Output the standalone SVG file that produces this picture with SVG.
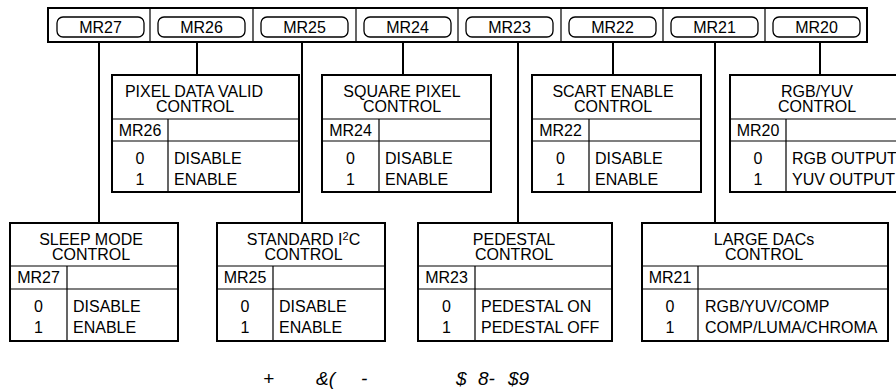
<svg xmlns="http://www.w3.org/2000/svg" width="896" height="390" viewBox="0 0 896 390">
<style>
text{font-family:"Liberation Sans",Arial,sans-serif;font-size:16px;fill:#000}
.c{text-anchor:middle}
.outer{fill:#fff;stroke:#000;stroke-width:2}
.inner{stroke:#000;stroke-width:1.2;fill:none}
.pill{fill:#fff;stroke:#000;stroke-width:1.3}
.conn{stroke:#000;stroke-width:2;fill:none}
.cap{font-style:italic;font-size:19px}
</style>
<rect width="896" height="390" fill="#fff"/>
<g id="connectors">
<line class="conn" x1="99" y1="42" x2="99" y2="223"/>
<line class="conn" x1="197" y1="42" x2="197" y2="75"/>
<line class="conn" x1="302" y1="42" x2="302" y2="223"/>
<line class="conn" x1="403" y1="42" x2="403" y2="75"/>
<line class="conn" x1="518" y1="42" x2="518" y2="223"/>
<line class="conn" x1="613" y1="42" x2="613" y2="75"/>
<line class="conn" x1="715" y1="42" x2="715" y2="223"/>
<line class="conn" x1="820" y1="42" x2="820" y2="75"/>
</g>
<g id="register">
<rect class="outer" x="48" y="8" width="819" height="34"/>
<path class="inner" d="M150 8V42M253 8V42M356 8V42M458 8V42M561 8V42M663 8V42M765 8V42"/>
<rect class="pill" x="57" y="17" width="87" height="20" rx="6"/>
<rect class="pill" x="158" y="17" width="87" height="20" rx="6"/>
<rect class="pill" x="261" y="17" width="87" height="20" rx="6"/>
<rect class="pill" x="364" y="17" width="87" height="20" rx="6"/>
<rect class="pill" x="466" y="17" width="87" height="20" rx="6"/>
<rect class="pill" x="569" y="17" width="87" height="20" rx="6"/>
<rect class="pill" x="671" y="17" width="87" height="20" rx="6"/>
<rect class="pill" x="773" y="17" width="87" height="20" rx="6"/>
<text class="c" x="100.5" y="33">MR27</text>
<text class="c" x="201.5" y="33">MR26</text>
<text class="c" x="304.5" y="33">MR25</text>
<text class="c" x="407.5" y="33">MR24</text>
<text class="c" x="509.5" y="33">MR23</text>
<text class="c" x="612.5" y="33">MR22</text>
<text class="c" x="714.5" y="33">MR21</text>
<text class="c" x="816.5" y="33">MR20</text>
</g>
<g id="pixel-data-valid">
<rect class="outer" x="112" y="75" width="187" height="117"/>
<path class="inner" d="M112 119H299M112 141H299M168 119V192"/>
<text class="c" x="194" y="96.5">PIXEL DATA VALID</text>
<text class="c" x="195" y="112">CONTROL</text>
<text class="c" x="140" y="136">MR26</text>
<text class="c" x="140" y="164">0</text>
<text class="c" x="140" y="185">1</text>
<text x="174" y="164">DISABLE</text>
<text x="174" y="185">ENABLE</text>
</g>
<g id="square-pixel">
<rect class="outer" x="322" y="75" width="169" height="117"/>
<path class="inner" d="M322 119H491M322 141H491M379 119V192"/>
<text class="c" x="402" y="96.5">SQUARE PIXEL</text>
<text class="c" x="402" y="112">CONTROL</text>
<text class="c" x="350.5" y="136">MR24</text>
<text class="c" x="350.5" y="164">0</text>
<text class="c" x="350.5" y="185">1</text>
<text x="385" y="164">DISABLE</text>
<text x="385" y="185">ENABLE</text>
</g>
<g id="scart-enable">
<rect class="outer" x="532" y="75" width="169" height="117"/>
<path class="inner" d="M532 119H701M532 141H701M589 119V192"/>
<text class="c" x="613" y="96.5">SCART ENABLE</text>
<text class="c" x="613" y="112">CONTROL</text>
<text class="c" x="560.5" y="136">MR22</text>
<text class="c" x="560.5" y="164">0</text>
<text class="c" x="560.5" y="185">1</text>
<text x="595" y="164">DISABLE</text>
<text x="595" y="185">ENABLE</text>
</g>
<g id="rgb-yuv">
<rect class="outer" x="730" y="75" width="175" height="117"/>
<path class="inner" d="M730 119H905M730 141H905M786 119V192"/>
<text class="c" x="817" y="96.5">RGB/YUV</text>
<text class="c" x="817" y="112">CONTROL</text>
<text class="c" x="758" y="136">MR20</text>
<text class="c" x="758" y="164">0</text>
<text class="c" x="758" y="185">1</text>
<text x="792" y="164">RGB OUTPUT</text>
<text x="792" y="185">YUV OUTPUT</text>
</g>
<g id="sleep-mode">
<rect class="outer" x="10" y="223" width="168" height="118"/>
<path class="inner" d="M10 266H178M10 289H178M67 266V341"/>
<text class="c" x="91" y="245">SLEEP MODE</text>
<text class="c" x="91" y="260">CONTROL</text>
<text class="c" x="38.5" y="283">MR27</text>
<text class="c" x="38.5" y="312">0</text>
<text class="c" x="38.5" y="333">1</text>
<text x="73" y="312">DISABLE</text>
<text x="73" y="333">ENABLE</text>
</g>
<g id="standard-i2c">
<rect class="outer" x="217" y="223" width="168" height="118"/>
<path class="inner" d="M217 266H385M217 289H385M273 266V341"/>
<text class="c" x="303.5" y="245">STANDARD I<tspan font-size="11" dy="-5">2</tspan><tspan dy="5">C</tspan></text>
<text class="c" x="303.5" y="260">CONTROL</text>
<text class="c" x="245" y="283">MR25</text>
<text class="c" x="245" y="312">0</text>
<text class="c" x="245" y="333">1</text>
<text x="279" y="312">DISABLE</text>
<text x="279" y="333">ENABLE</text>
</g>
<g id="pedestal">
<rect class="outer" x="418" y="223" width="194" height="118"/>
<path class="inner" d="M418 266H612M418 289H612M475 266V341"/>
<text class="c" x="514" y="245">PEDESTAL</text>
<text class="c" x="514" y="260">CONTROL</text>
<text class="c" x="446.5" y="283">MR23</text>
<text class="c" x="446.5" y="312">0</text>
<text class="c" x="446.5" y="333">1</text>
<text x="481" y="312">PEDESTAL ON</text>
<text x="481" y="333">PEDESTAL OFF</text>
</g>
<g id="large-dacs">
<rect class="outer" x="642" y="223" width="246" height="118"/>
<path class="inner" d="M642 266H888M642 289H888M698 266V341"/>
<text class="c" x="764" y="245">LARGE DACs</text>
<text class="c" x="764" y="260">CONTROL</text>
<text class="c" x="670" y="283">MR21</text>
<text class="c" x="670" y="312">0</text>
<text class="c" x="670" y="333">1</text>
<text x="705" y="312">RGB/YUV/COMP</text>
<text x="705" y="333">COMP/LUMA/CHROMA</text>
</g>
<g id="caption">
<text class="cap" x="263" y="385">+</text>
<text class="cap" x="316" y="385">&amp;(</text>
<text class="cap" x="361" y="385">-</text>
<text class="cap" y="385"><tspan x="456">$</tspan><tspan x="478">8-</tspan><tspan x="508">$9</tspan></text>
</g>
</svg>
